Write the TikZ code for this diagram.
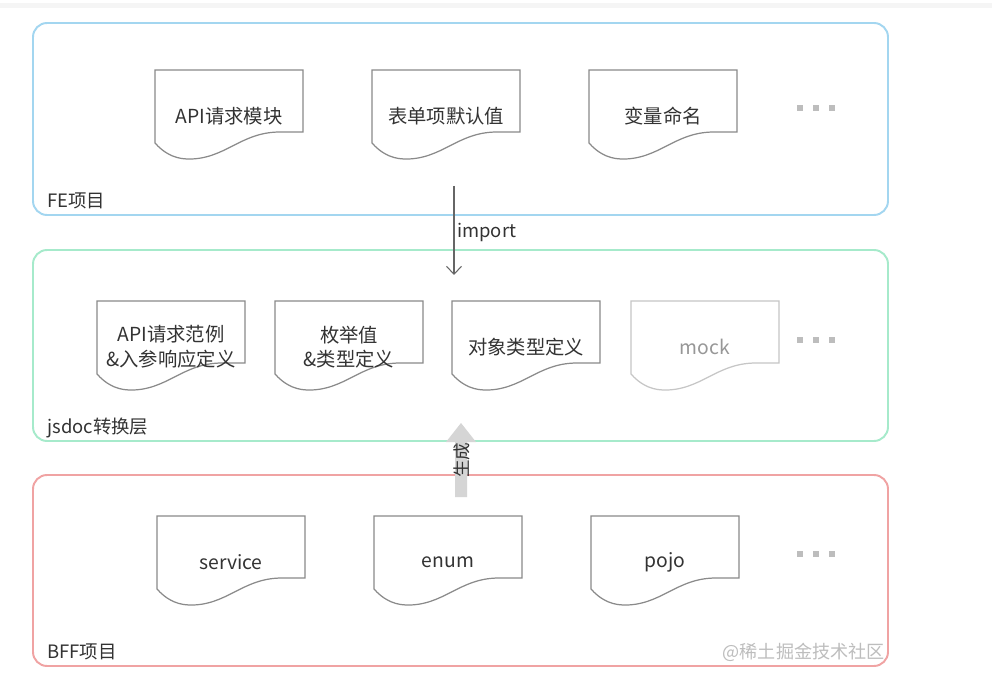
\documentclass[tikz,border=0pt]{standalone}
\usepackage{fontspec}
\setmainfont{Noto Sans CJK SC}
\usetikzlibrary{arrows.meta,positioning,calc}
\definecolor{Ink}{HTML}{333333}
\definecolor{Edge}{HTML}{8A8A8A}
\definecolor{Faint}{HTML}{C6C6C6}
\definecolor{Sky}{HTML}{A3D6F0}
\definecolor{Mint}{HTML}{A6EACB}
\definecolor{Rose}{HTML}{F0A3A3}
\definecolor{Ash}{HTML}{D5D5D5}
\definecolor{Mark}{HTML}{BDBDBD}

% document page: name, left, top, line style, text
\newcommand{\docpage}[5]{%
  \begin{scope}[shift={(#2,#3)}]
    \draw[#4] (0,0) -- (148,0) -- (148,62) -- (125,62)
      .. controls (85,62) and (70,90) .. (32,89)
      .. controls (18,88.5) and (8,82) .. (0,73) -- cycle;
    \node[doctext] (#1) at (74,46) {#5};
  \end{scope}}

\begin{document}
\begin{tikzpicture}[x=0.02cm,y=-0.02cm,
  panel/.style={line width=1.1pt,rounded corners=8pt},
  docline/.style={Edge,line width=0.7pt,fill=white},
  mockline/.style={Faint,line width=0.7pt,fill=white},
  doctext/.style={Ink,font=\fontsize{11}{14}\selectfont,align=center,inner sep=0pt},
  boxlabel/.style={Ink,font=\fontsize{10.5}{12}\selectfont,anchor=west,inner sep=0pt}]
  \useasboundingbox (0,0) rectangle (992,686);
  \fill[white] (0,0) rectangle (992,686);
  \fill[black!4] (0,3) rectangle (992,8);

  % three layers
  \draw[panel,Sky] (33,23) rectangle (888,215);
  \draw[panel,Mint] (33,250) rectangle (888,441);
  \draw[panel,Rose] (33,475) rectangle (888,666);
  \node[boxlabel] (fe) at (47,201) {FE项目};
  \node[boxlabel] (jsdoc) at (47,428) {jsdoc转换层};
  \node[boxlabel] (bff) at (47,652) {BFF项目};

  % FE project
  \docpage{feapi}{155}{70}{docline}{API请求模块}
  \docpage{feform}{372}{70}{docline}{表单项默认值}
  \docpage{fevar}{589}{70}{docline}{变量命名}

  % jsdoc layer
  \docpage{jsapi}{97}{301}{docline}{API请求范例\\\&入参响应定义}
  \docpage{jsenum}{275}{301}{docline}{枚举值\\\&类型定义}
  \docpage{jsobj}{452}{301}{docline}{对象类型定义}
  \docpage{jsmock}{631}{301}{mockline}{\textcolor{Mark!80!black}{mock}}

  % BFF project
  \docpage{bffservice}{157}{516}{docline}{service}
  \docpage{bffenum}{374}{516}{docline}{enum}
  \docpage{bffpojo}{591}{516}{docline}{pojo}

  \foreach \y in {108,340,554}{
    \foreach \x in {800,816,832}{
      \fill[Mark] (\x-3,\y-3) rectangle (\x+3,\y+3);
    }
  }

  % import
  \coordinate (imptop) at (454,186);
  \coordinate (impend) at (454,275);
  \draw[black!60,line width=0.6pt,-{Straight Barb[length=4.5pt,width=8.5pt]}] (imptop) -- (impend);
  \node[boxlabel,font=\fontsize{10.5}{12}\selectfont] (implabel) at (457,232) {import};

  % generate
  \fill[Ash] (455,497) -- (455,442) -- (446,442) -- (461,423) -- (476,442) -- (467,442) -- (467,497) -- cycle;
  \node[Ink,rotate=90,font=\fontsize{10}{12}\selectfont,inner sep=0pt] (gen) at (462,460) {生成};

  \node[Mark,anchor=east,font=\fontsize{10.3}{12}\selectfont,inner sep=0pt] (mark) at (885,652) {@稀土掘金技术社区};
\end{tikzpicture}
\end{document}
